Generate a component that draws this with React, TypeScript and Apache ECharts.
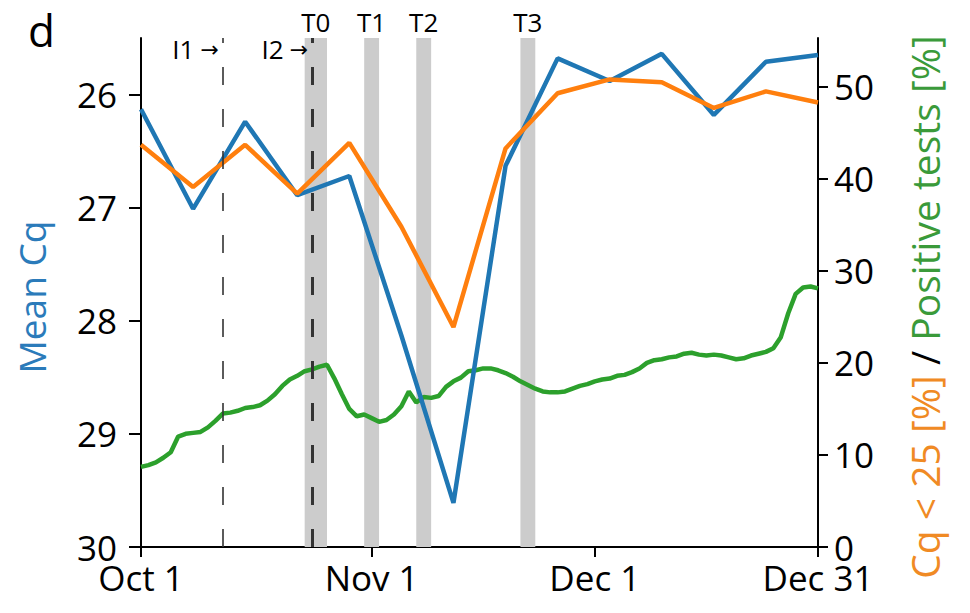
import React, { useEffect, useRef } from "react";
import * as echarts from "echarts";

// Day index 0 = Oct 1, 91 = Dec 31
const tickDays = [0, 31, 61, 91];
const tickLabels = ["Oct 1", "Nov 1", "Dec 1", "Dec 31"];

const weekDays = [0, 7, 14, 21, 28, 35, 42, 49, 56, 63, 70, 77, 84, 91];
const meanCq = [26.13, 27.01, 26.24, 26.89, 26.72, 28.13, 29.61, 26.63, 25.68, 25.88, 25.64, 26.18, 25.71, 25.65];
const cqBelow25 = [43.7, 39.1, 43.7, 38.4, 43.9, 34.8, 23.9, 43.3, 49.3, 50.8, 50.5, 47.7, 49.5, 48.3];

const positiveTests = [
  8.7, 8.9, 9.2, 9.7, 10.3, 12.0, 12.3, 12.4, 12.5, 13.0,
  13.7, 14.5, 14.6, 14.8, 15.1, 15.2, 15.4, 15.9, 16.6, 17.5,
  18.2, 18.6, 19.1, 19.3, 19.6, 19.8, 18.3, 16.6, 15.0, 14.2,
  14.4, 14.0, 13.6, 13.8, 14.4, 15.3, 16.9, 15.7, 16.3, 16.2,
  16.4, 17.4, 18.0, 18.4, 19.1, 19.2, 19.4, 19.4, 19.2, 18.9,
  18.5, 18.0, 17.6, 17.2, 16.9, 16.8, 16.8, 16.9, 17.2, 17.5,
  17.7, 18.0, 18.2, 18.3, 18.6, 18.7, 19.0, 19.4, 20.0, 20.3,
  20.4, 20.6, 20.7, 21.0, 21.1, 20.9, 20.8, 20.9, 20.8, 20.6,
  20.4, 20.5, 20.8, 21.0, 21.2, 21.6, 22.8, 25.4, 27.5, 28.2,
  28.3, 28.1,
];

const cqTicks = [26, 27, 28, 29, 30];
const pctTicks = [0, 10, 20, 30, 40, 50];

const bandNames = ["T0", "T1", "T2", "T3"];
const bandStart = [22, 30, 37, 51];
const bandEnd = [25, 32, 39, 53];

const lineNames = ["I1", "I2"];
const lineDays = [11, 23];
const lineWidths = [1.6, 3];

const FONT = "Open Sans";

export default function App() {
  const ref = useRef<HTMLDivElement>(null);
  useEffect(() => {
    if (!ref.current) return;
    const chart = echarts.init(ref.current, undefined, { renderer: "svg" });
    const axisText = { color: "#000", fontSize: 35, fontFamily: FONT };
    const option: any = {
      animation: false,
      backgroundColor: "#fff",
      grid: { left: 141, right: 152, top: 38, bottom: 66 },
      xAxis: {
        type: "value",
        min: 0,
        max: 91,
        splitLine: { show: false },
        axisLine: { lineStyle: { color: "#000", width: 2 } },
        axisTick: { customValues: tickDays, length: 10, lineStyle: { color: "#000", width: 2 } },
        axisLabel: {
          customValues: tickDays,
          ...axisText,
          margin: 13,
          formatter: (v: number) => tickLabels[tickDays.indexOf(Math.round(v))] ?? "",
        },
      },
      yAxis: [
        {
          type: "value",
          inverse: true,
          min: 25.5,
          max: 30,
          position: "left",
          splitLine: { show: false },
          axisLine: { show: true, lineStyle: { color: "#000", width: 2 } },
          axisTick: { customValues: cqTicks, length: 12, lineStyle: { color: "#000", width: 2 } },
          axisLabel: { customValues: cqTicks, ...axisText, margin: 24 },
        },
        {
          type: "value",
          min: 0,
          max: 55.3,
          position: "right",
          splitLine: { show: false },
          axisLine: { show: true, lineStyle: { color: "#000", width: 2 } },
          axisTick: { customValues: pctTicks, length: 10, lineStyle: { color: "#000", width: 2 } },
          axisLabel: { customValues: pctTicks, ...axisText, margin: 16 },
        },
      ],
      graphic: [
        {
          type: "text",
          left: 28,
          top: 8,
          style: { text: "d", fontSize: 44, fontFamily: FONT, fill: "#000" },
        },
        {
          type: "text",
          x: 31,
          y: 297,
          rotation: Math.PI / 2,
          style: {
            text: "Mean Cq",
            fontSize: 37,
            fontFamily: FONT,
            fill: "#2b7bba",
            align: "center",
            verticalAlign: "middle",
          },
        },
        {
          type: "text",
          x: 924,
          y: 307,
          rotation: Math.PI / 2,
          style: {
            text: "{o|Cq < 25 [%]} {k|/} {g|Positive tests [%]}",
            align: "center",
            verticalAlign: "middle",
            fontSize: 39,
            fontFamily: FONT,
            rich: {
              o: { fill: "#f08a24", fontSize: 39, fontFamily: FONT },
              k: { fill: "#000", fontSize: 39, fontFamily: FONT },
              g: { fill: "#3a9a3a", fontSize: 39, fontFamily: FONT },
            },
          },
        },
      ],
      series: [
        {
          type: "line",
          name: "Positive tests",
          yAxisIndex: 1,
          showSymbol: false,
          z: 2,
          data: positiveTests.map((v, i) => [i, v]),
          lineStyle: { color: "#2ca02c", width: 4.5 },
          itemStyle: { color: "#2ca02c" },
          markArea: {
            silent: true,
            z: 1,
            itemStyle: { color: "#cccccc" },
            label: { position: "top", distance: 3, color: "#000", fontSize: 26, fontFamily: FONT },
            data: bandNames.map((n, i) => [
              { name: n, xAxis: bandStart[i] },
              { xAxis: bandEnd[i] },
            ]),
          },
          markLine: {
            silent: true,
            symbol: ["none", "none"],
            label: { show: false },
            data: lineDays.map((d, i) => ({
              xAxis: d,
              lineStyle: { color: "#333", width: lineWidths[i], type: [18, 24] },
            })),
          },
        },
        {
          type: "line",
          name: "Mean Cq",
          yAxisIndex: 0,
          showSymbol: false,
          z: 3,
          data: weekDays.map((d, i) => [d, meanCq[i]]),
          lineStyle: { color: "#1f77b4", width: 4.5 },
          itemStyle: { color: "#1f77b4" },
          markPoint: {
            symbol: "circle",
            symbolSize: 0,
            label: {
              show: true,
              position: "left",
              distance: 4,
              formatter: (p: any) => `{a|${p.name}}{b|→}`,
              rich: {
                a: { color: "#000", fontSize: 26, fontFamily: FONT },
                b: { color: "#000", fontSize: 22, fontFamily: "DejaVu Sans", padding: [0, 0, 0, 6] },
              },
            },
            data: lineNames.map((n, i) => ({ name: n, coord: [lineDays[i], 25.6] })),
          },
        },
        {
          type: "line",
          name: "Cq < 25",
          yAxisIndex: 1,
          showSymbol: false,
          z: 4,
          data: weekDays.map((d, i) => [d, cqBelow25[i]]),
          lineStyle: { color: "#ff7f0e", width: 4.5 },
          itemStyle: { color: "#ff7f0e" },
        },
      ],
    };
    chart.setOption(option);
    return () => chart.dispose();
  }, []);
  return (
    <div
      ref={ref}
      style={{ position: "absolute", left: 0, top: 0, width: 970, height: 613 }}
    />
  );
}
